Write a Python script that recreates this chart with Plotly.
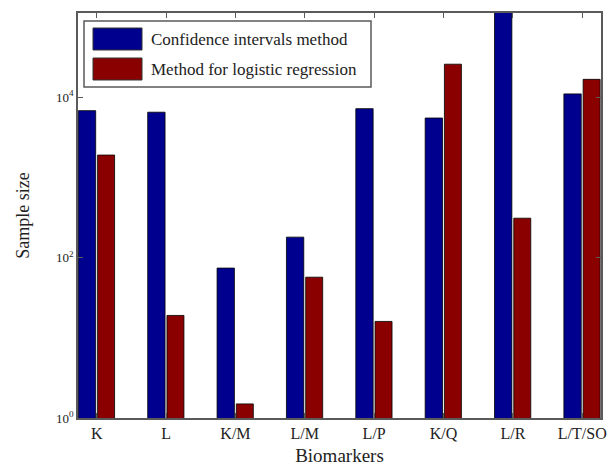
import plotly.graph_objects as go
import numpy as np

categories = ["K", "L", "K/M", "L/M", "L/P", "K/Q", "L/R", "L/T/SO"]
ci_method = [6800, 6500, 74, 180, 7200, 5500, 130000, 11000]
logistic_method = [1900, 19, 1.5, 57, 16, 25800, 310, 16700]
series_names = ["Confidence intervals method", "Method for logistic regression"]
y_tick_vals = [1, 100, 10000]
y_tick_text = ["10<sup>0</sup>", "10<sup>2</sup>", "10<sup>4</sup>"]

blue = "#00008E"
red = "#8A0000"
font_family = "Liberation Serif, Times New Roman, serif"

idx = np.arange(len(categories))

fig = go.Figure()
fig.add_trace(go.Bar(x=idx + 0.13, y=ci_method, width=0.25, name=series_names[0],
                     marker=dict(color=blue, line=dict(color="#000000", width=0.8)),
                     showlegend=False))
fig.add_trace(go.Bar(x=idx + 0.405, y=logistic_method, width=0.245, name=series_names[1],
                     marker=dict(color=red, line=dict(color="#000000", width=0.8)),
                     showlegend=False))

axis_col = "#5a5a5a"
fig.update_layout(
    width=610, height=470,
    margin=dict(l=78, r=9, t=13, b=52),
    paper_bgcolor="white", plot_bgcolor="white",
    barmode="overlay",
    font=dict(family=font_family, size=16, color="#222222"),
    xaxis=dict(range=[0, 7.54], tickvals=idx + 0.27, ticktext=categories,
               ticks="inside", ticklen=5, tickcolor=axis_col,
               showline=True, linecolor=axis_col, linewidth=1.5, mirror="ticks",
               showgrid=False, zeroline=False, automargin=False,
               title=dict(text="Biomarkers", font=dict(size=19), standoff=8),
               tickfont=dict(size=16)),
    yaxis=dict(type="log", range=[0, 5.05], tickvals=y_tick_vals, ticktext=y_tick_text,
               ticks="inside", ticklen=5, tickcolor=axis_col,
               showline=True, linecolor=axis_col, linewidth=1.5, mirror="ticks",
               showgrid=False, zeroline=False, automargin=False,
               title=dict(text="Sample size", font=dict(size=18), standoff=22),
               tickfont=dict(size=13)),
)

# custom legend box (decoration, paper coordinates)
def px_x(p):
    return (p - 78) / (601 - 78)

def px_y(p):
    return (418 - p) / (418 - 13)

shapes = [
    dict(type="rect", xref="paper", yref="paper", x0=px_x(84), x1=px_x(371), y0=px_y(87), y1=px_y(21),
         line=dict(color=axis_col, width=1.5), fillcolor="white"),
    dict(type="rect", xref="paper", yref="paper", x0=px_x(93), x1=px_x(142), y0=px_y(50), y1=px_y(28),
         line=dict(color="#333333", width=1), fillcolor=blue),
    dict(type="rect", xref="paper", yref="paper", x0=px_x(93), x1=px_x(142), y0=px_y(80), y1=px_y(58),
         line=dict(color="#333333", width=1), fillcolor=red),
]
fig.update_layout(shapes=shapes)
fig.add_annotation(xref="paper", yref="paper", x=px_x(149), y=px_y(39), text=series_names[0],
                   showarrow=False, xanchor="left", yanchor="middle", font=dict(size=17))
fig.add_annotation(xref="paper", yref="paper", x=px_x(149), y=px_y(69), text=series_names[1],
                   showarrow=False, xanchor="left", yanchor="middle", font=dict(size=17))

fig.write_html(
    "out.html",
    config={"displayModeBar": False},
    post_script="document.body.style.margin='0';document.body.style.overflow='hidden';",
)
